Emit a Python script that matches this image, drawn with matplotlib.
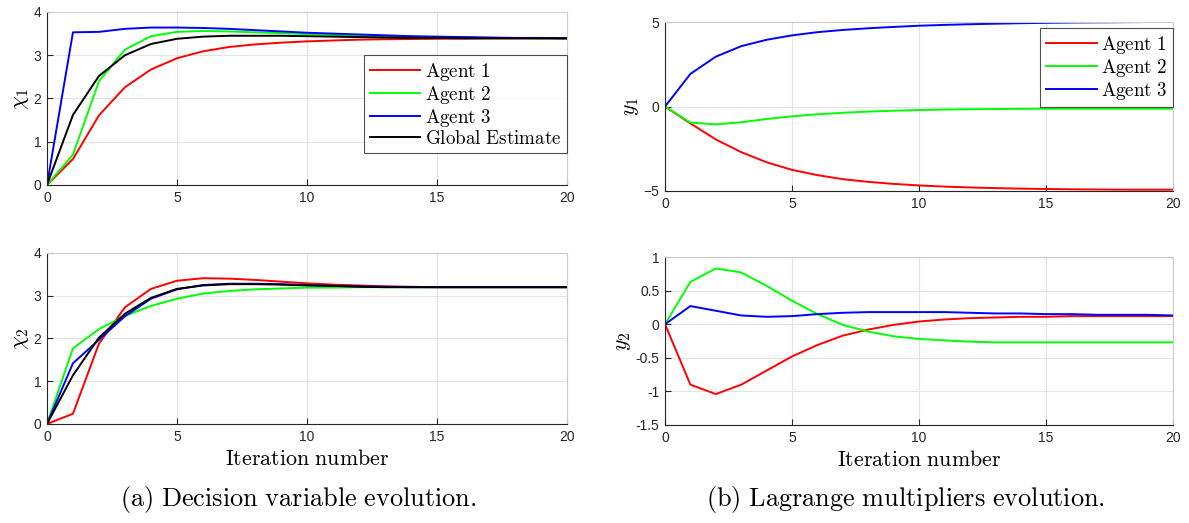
import numpy as np
import matplotlib
matplotlib.use('Agg')
import matplotlib.pyplot as plt

plt.rcParams['mathtext.fontset'] = 'cm'
plt.rcParams['font.family'] = ['Liberation Sans', 'DejaVu Sans']

iters = np.arange(0, 21)

# decision variable chi_1 per agent + global estimate
chi1_a1 = [0, 0.60, 1.61, 2.26, 2.67, 2.93, 3.09, 3.19, 3.25, 3.29, 3.32, 3.34, 3.36, 3.37, 3.375, 3.38, 3.385, 3.39, 3.39, 3.39, 3.39]
chi1_a2 = [0, 0.70, 2.40, 3.13, 3.44, 3.54, 3.56, 3.55, 3.53, 3.51, 3.49, 3.47, 3.45, 3.44, 3.43, 3.42, 3.41, 3.40, 3.40, 3.39, 3.39]
chi1_a3 = [0, 3.53, 3.54, 3.61, 3.64, 3.64, 3.63, 3.61, 3.58, 3.55, 3.52, 3.50, 3.48, 3.46, 3.44, 3.43, 3.42, 3.41, 3.40, 3.40, 3.39]
chi1_gl = [0, 1.62, 2.52, 3.00, 3.26, 3.38, 3.43, 3.45, 3.45, 3.45, 3.44, 3.43, 3.42, 3.41, 3.40, 3.40, 3.39, 3.39, 3.39, 3.39, 3.39]

# decision variable chi_2
chi2_a1 = [0, 0.24, 1.88, 2.73, 3.16, 3.35, 3.41, 3.40, 3.37, 3.33, 3.29, 3.26, 3.24, 3.22, 3.21, 3.20, 3.20, 3.20, 3.20, 3.20, 3.20]
chi2_a2 = [0, 1.77, 2.22, 2.53, 2.76, 2.93, 3.05, 3.11, 3.15, 3.17, 3.19, 3.19, 3.20, 3.20, 3.20, 3.20, 3.20, 3.20, 3.20, 3.20, 3.20]
chi2_a3 = [0, 1.42, 1.97, 2.52, 2.93, 3.15, 3.25, 3.28, 3.28, 3.27, 3.25, 3.23, 3.22, 3.21, 3.20, 3.20, 3.20, 3.20, 3.20, 3.20, 3.20]
chi2_gl = [0, 1.14, 2.02, 2.58, 2.95, 3.16, 3.24, 3.27, 3.27, 3.26, 3.24, 3.23, 3.21, 3.20, 3.20, 3.20, 3.20, 3.20, 3.20, 3.20, 3.20]

# lagrange multipliers y_1
y1_a1 = [0, -1.00, -1.95, -2.70, -3.30, -3.75, -4.06, -4.30, -4.46, -4.58, -4.67, -4.74, -4.79, -4.83, -4.86, -4.88, -4.90, -4.91, -4.92, -4.92, -4.92]
y1_a2 = [0, -0.95, -1.06, -0.93, -0.74, -0.58, -0.46, -0.37, -0.30, -0.25, -0.21, -0.18, -0.16, -0.15, -0.14, -0.13, -0.13, -0.13, -0.13, -0.13, -0.13]
y1_a3 = [0, 1.93, 2.95, 3.57, 3.95, 4.21, 4.40, 4.53, 4.63, 4.71, 4.78, 4.83, 4.87, 4.90, 4.93, 4.95, 4.97, 4.98, 4.99, 5.00, 5.01]

# lagrange multipliers y_2
y2_a1 = [0, -0.90, -1.04, -0.90, -0.69, -0.48, -0.31, -0.17, -0.08, -0.01, 0.04, 0.07, 0.09, 0.10, 0.11, 0.11, 0.12, 0.12, 0.12, 0.12, 0.12]
y2_a2 = [0, 0.63, 0.83, 0.77, 0.57, 0.35, 0.15, -0.01, -0.11, -0.18, -0.22, -0.24, -0.26, -0.27, -0.27, -0.27, -0.27, -0.27, -0.27, -0.27, -0.27]
y2_a3 = [0, 0.27, 0.20, 0.13, 0.11, 0.12, 0.15, 0.17, 0.18, 0.18, 0.18, 0.18, 0.17, 0.16, 0.16, 0.15, 0.15, 0.14, 0.14, 0.14, 0.13]

agent_labels = ['Agent 1', 'Agent 2', 'Agent 3', 'Global Estimate']
colors = ['#ff0000', '#00ff00', '#0000ff', '#000000']
LW = 1.4
AX_COLOR = '#262626'


def mtext(s):
    return r'$\mathrm{' + s.replace(' ', r'\ ') + '}$'


def fit_size(fig, s, width_px, base=12.0):
    # font size (pt) at which the string s is width_px wide
    t = fig.text(0, 0, s, fontsize=base)
    w = t.get_window_extent(fig.canvas.get_renderer()).width
    t.remove()
    return base * width_px / w


def style_axes(ax, ylim, yticks, yticklabels=None):
    ax.set_xlim(0, 20)
    ax.set_ylim(*ylim)
    ax.set_xticks([0, 5, 10, 15, 20])
    ax.set_yticks(yticks)
    if yticklabels is not None:
        ax.set_yticklabels(yticklabels)
    ax.grid(True, color='#e3e3e3', linewidth=0.8)
    ax.set_axisbelow(True)
    ax.tick_params(direction='in', length=4, width=0.8, colors=AX_COLOR,
                   labelsize=10, top=False, right=False, pad=4)
    for sp in ax.spines.values():
        sp.set_color(AX_COLOR)
        sp.set_linewidth(0.8)
    ax.spines['top'].set_color('#cccccc')
    ax.spines['right'].set_color('#cccccc')


fig = plt.figure(figsize=(11.89, 5.23), dpi=100)

ax1 = fig.add_axes([0.0395, 0.6463, 0.4373, 0.3308])
ax2 = fig.add_axes([0.0395, 0.1893, 0.4373, 0.3270])
ax3 = fig.add_axes([0.5593, 0.6348, 0.4273, 0.3231])
ax4 = fig.add_axes([0.5593, 0.1874, 0.4273, 0.3212])

for vals, lab, c in zip([chi1_a1, chi1_a2, chi1_a3, chi1_gl], agent_labels, colors):
    ax1.plot(iters, vals, color=c, lw=LW, label=mtext(lab))
for vals, c in zip([chi2_a1, chi2_a2, chi2_a3, chi2_gl], colors):
    ax2.plot(iters, vals, color=c, lw=LW)
for vals, lab, c in zip([y1_a1, y1_a2, y1_a3], agent_labels, colors):
    ax3.plot(iters, vals, color=c, lw=LW, label=mtext(lab))
for vals, c in zip([y2_a1, y2_a2, y2_a3], colors):
    ax4.plot(iters, vals, color=c, lw=LW)

style_axes(ax1, (0, 4), [0, 1, 2, 3, 4])
style_axes(ax2, (0, 4), [0, 1, 2, 3, 4])
style_axes(ax3, (-5, 5), [-5, 0, 5])
style_axes(ax4, (-1.5, 1), [-1.5, -1, -0.5, 0, 0.5, 1],
           ['-1.5', '-1', '-0.5', '0', '0.5', '1'])

xlab = mtext('Iteration number')
xlab_fs = fit_size(fig, xlab, 165)
leg_fs = fit_size(fig, mtext('Global Estimate'), 137)
cap_a = mtext('(a) Decision variable evolution.')
cap_b = mtext('(b) Lagrange multipliers evolution.')
cap_fs = fit_size(fig, cap_a, 358)

ax1.set_ylabel(r'$\chi_1$', fontsize=xlab_fs, labelpad=2)
ax2.set_ylabel(r'$\chi_2$', fontsize=xlab_fs, labelpad=2)
ax3.set_ylabel(r'$y_1$', fontsize=xlab_fs, labelpad=2)
ax4.set_ylabel(r'$y_2$', fontsize=xlab_fs, labelpad=2)
ax2.set_xlabel(xlab, fontsize=xlab_fs, labelpad=4)
ax4.set_xlabel(xlab, fontsize=xlab_fs, labelpad=4)

for ax, anchor in [(ax1, (1.0, 0.751)), (ax3, (1.0, 0.965))]:
    leg = ax.legend(loc='upper right', bbox_to_anchor=anchor, fontsize=leg_fs,
                    frameon=True, fancybox=False, borderpad=0.3,
                    labelspacing=0.05, handlelength=2.65, handletextpad=0.22,
                    borderaxespad=0.0)
    leg.get_frame().set_edgecolor(AX_COLOR)
    leg.get_frame().set_linewidth(0.8)

fig.text(298 / 1189, 0.044, cap_a, fontsize=cap_fs, ha='center', va='center')
fig.text(906 / 1189, 0.044, cap_b, fontsize=cap_fs, ha='center', va='center')

fig.savefig('out.png', dpi=100)
